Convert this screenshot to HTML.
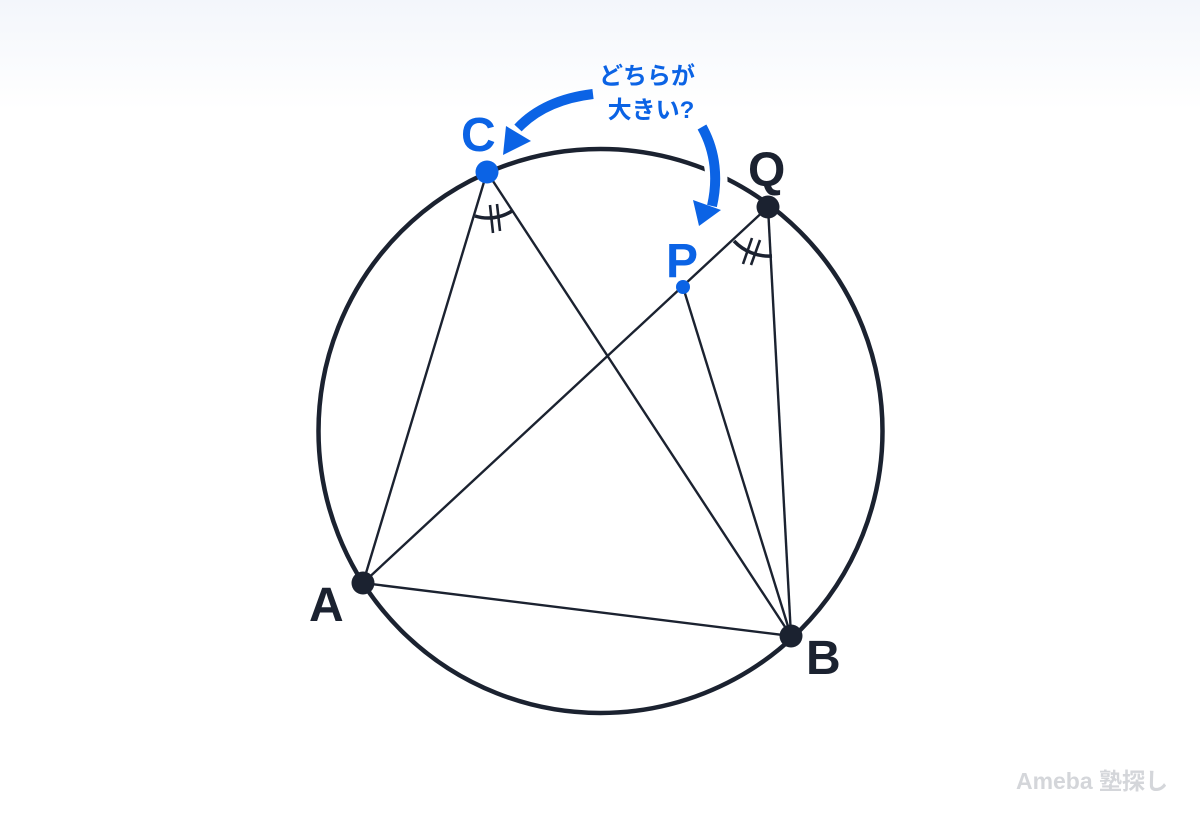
<!DOCTYPE html>
<html><head><meta charset="utf-8"><style>
html,body{margin:0;padding:0;}
body{width:1200px;height:816px;background:linear-gradient(#f3f6fb 0px,#ffffff 110px);overflow:hidden;}
svg{display:block}
</style></head><body>
<svg width="1200" height="816" viewBox="0 0 1200 816" xmlns="http://www.w3.org/2000/svg">
<g stroke="#1b2230" fill="none">
<circle cx="600.5" cy="431" r="282" stroke-width="4.5"/>
<g stroke-width="2.4">
<line x1="487" y1="172" x2="363" y2="583"/>
<line x1="487" y1="172" x2="791" y2="636"/>
<line x1="768" y1="207" x2="363" y2="583"/>
<line x1="768" y1="207" x2="791" y2="636"/>
<line x1="683" y1="287" x2="791" y2="636"/>
<line x1="363" y1="583" x2="791" y2="636"/>
</g>
<g stroke-width="3.5">
<path d="M475 216 A44 44 0 0 0 512 211"/>
<path d="M734 241 A48 48 0 0 0 772 256"/>
</g>
<g stroke-width="2.6">
<line x1="490" y1="205" x2="493" y2="233"/>
<line x1="497" y1="204" x2="500" y2="231"/>
<line x1="752" y1="238" x2="743" y2="264"/>
<line x1="760" y1="240" x2="751" y2="265"/>
</g>
</g>
<!-- white gap for arrow crossing circle -->
<path d="M702 127 C718 160 720 185 712 205" stroke="#fff" stroke-width="22" fill="none"/>
<g fill="#0b63e5">
<path d="M593 94 C560 98 535 110 518 128" stroke="#0b63e5" stroke-width="10" fill="none"/>
<polygon points="506,126 503,155 531,141"/>
<path d="M702 127 C716 152 718 180 712 206" stroke="#0b63e5" stroke-width="10" fill="none"/>
<polygon points="693,200 699,226 721,210"/>
<circle cx="487" cy="172" r="11.5"/>
<circle cx="683" cy="287" r="7"/>
</g>
<g fill="#1b2230">
<circle cx="768" cy="207" r="11.5"/>
<circle cx="363" cy="583" r="11.5"/>
<circle cx="791" cy="636" r="11.5"/>
</g>
<g font-family="Liberation Sans, sans-serif" font-weight="bold" font-size="48">
<text x="461" y="151" fill="#0b63e5">C</text>
<text x="666" y="277" fill="#0b63e5">P</text>
<text x="748" y="186" fill="#1b2230">Q</text>
<text x="309" y="621" fill="#1b2230">A</text>
<text x="806" y="674" fill="#1b2230">B</text>
</g>
<g font-family="Liberation Sans, 'Noto Sans CJK JP', sans-serif" font-weight="bold" font-size="24" fill="#0b63e5" text-anchor="middle">
<text x="647" y="84">どちらが</text>
<text x="651" y="118">大きい?</text>
</g>
<text x="1092" y="789" font-family="Liberation Sans, 'Noto Sans CJK JP', sans-serif" font-weight="bold" font-size="23" fill="#d4d6da" text-anchor="middle">Ameba 塾探し</text>
</svg>
</body></html>
